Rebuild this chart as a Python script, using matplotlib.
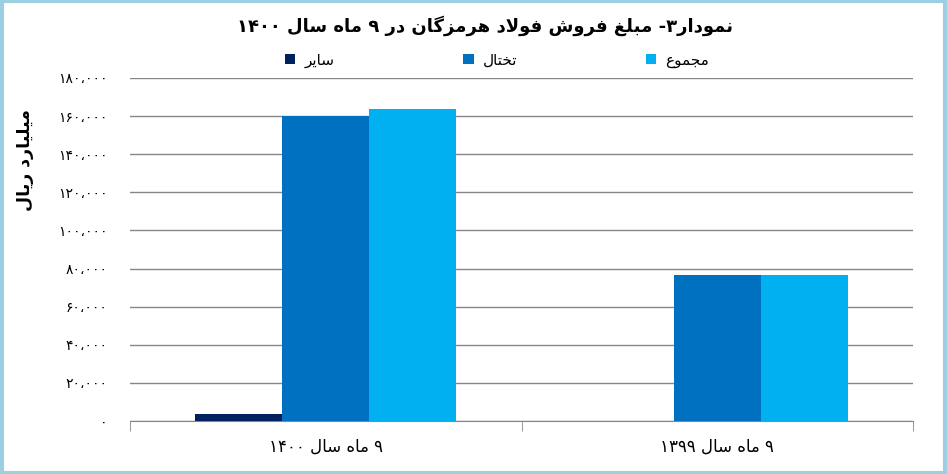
import re
import numpy as np
import matplotlib
matplotlib.use('Agg')
import matplotlib.pyplot as plt
from matplotlib.patches import Rectangle

# chart data
title = 'نمودار۳- مبلغ فروش فولاد هرمزگان در ۹ ماه سال ۱۴۰۰'
y_label = 'میلیارد ریال'
categories = ['۹ ماه سال ۱۴۰۰', '۹ ماه سال ۱۳۹۹']
series_names = ['سایر', 'تختال', 'مجموع']
sayer = [3800, 0]
takhtal = [159900, 76500]
majmoo = [163700, 76500]
colors = ['#002060', '#0070C0', '#00B0F0']

# arabic presentation forms: isolated, final, initial, medial
FORMS = {
    'ا': ('\uFE8D', '\uFE8E', None, None),
    'ب': ('\uFE8F', '\uFE90', '\uFE91', '\uFE92'),
    'ت': ('\uFE95', '\uFE96', '\uFE97', '\uFE98'),
    'ج': ('\uFE9D', '\uFE9E', '\uFE9F', '\uFEA0'),
    'خ': ('\uFEA5', '\uFEA6', '\uFEA7', '\uFEA8'),
    'د': ('\uFEA9', '\uFEAA', None, None),
    'ر': ('\uFEAD', '\uFEAE', None, None),
    'ز': ('\uFEAF', '\uFEB0', None, None),
    'س': ('\uFEB1', '\uFEB2', '\uFEB3', '\uFEB4'),
    'ش': ('\uFEB5', '\uFEB6', '\uFEB7', '\uFEB8'),
    'ع': ('\uFEC9', '\uFECA', '\uFECB', '\uFECC'),
    'غ': ('\uFECD', '\uFECE', '\uFECF', '\uFED0'),
    'ف': ('\uFED1', '\uFED2', '\uFED3', '\uFED4'),
    'ل': ('\uFEDD', '\uFEDE', '\uFEDF', '\uFEE0'),
    'م': ('\uFEE1', '\uFEE2', '\uFEE3', '\uFEE4'),
    'ن': ('\uFEE5', '\uFEE6', '\uFEE7', '\uFEE8'),
    'ه': ('\uFEE9', '\uFEEA', '\uFEEB', '\uFEEC'),
    'و': ('\uFEED', '\uFEEE', None, None),
    'ی': ('\uFBFC', '\uFBFD', '\uFBFE', '\uFBFF'),
    'گ': ('\uFB92', '\uFB93', '\uFB94', '\uFB95'),
}


def dual(c):
    return c in FORMS and FORMS[c][2] is not None


def fa(text):
    # shape letters, then put them in visual (left to right) order
    out = []
    n = len(text)
    i = 0
    while i < n:
        c = text[i]
        if c not in FORMS:
            out.append(c)
            i += 1
            continue
        link_prev = i > 0 and dual(text[i - 1])
        if c == 'ل' and i + 1 < n and text[i + 1] == 'ا':
            out.append('\uFEFC' if link_prev else '\uFEFB')
            i += 2
            continue
        link_next = dual(c) and i + 1 < n and text[i + 1] in FORMS
        iso, fin, ini, med = FORMS[c]
        if link_prev and link_next:
            out.append(med)
        elif link_prev:
            out.append(fin)
        elif link_next:
            out.append(ini)
        else:
            out.append(iso)
        i += 1
    tokens = re.findall(r'[۰-۹]+|.', ''.join(out))
    return ''.join(tokens[::-1])


def fa_num(v):
    s = f'{int(v):,}'
    return s.translate(str.maketrans('0123456789,', '۰۱۲۳۴۵۶۷۸۹،'))


fig = plt.figure(figsize=(9.47, 4.74), dpi=100)
ax = fig.add_axes([130 / 947, 1 - 421 / 474, 783 / 947, 343 / 474])

x = np.arange(len(categories))
w = 0.222
for k, (vals, name) in enumerate(zip([sayer, takhtal, majmoo], series_names)):
    ax.bar(x + (k - 1) * w, vals, w, color=colors[k], label=fa(name), zorder=3)

ax.set_xlim(-0.5, 1.5)
ax.set_ylim(0, 180000)
yt = np.arange(0, 180001, 20000)
ax.set_yticks(yt)
ax.set_yticklabels([fa_num(v) for v in yt], fontsize=10)
ax.tick_params(axis='y', length=0, pad=16)
ax.set_xticks(x)
ax.set_xticklabels([fa(c) for c in categories], fontsize=12)
ax.tick_params(axis='x', length=0, pad=12)
ax.set_xticks([-0.5, 0.5, 1.5], minor=True)
ax.tick_params(axis='x', which='minor', length=7, color='#868686')
ax.grid(axis='y', color='#868686', linewidth=1, zorder=0)
for s in ['left', 'top', 'right']:
    ax.spines[s].set_visible(False)
ax.spines['bottom'].set_color('#868686')

fig.text(485 / 947, 1 - 26 / 474, fa(title), ha='center', va='center',
         fontsize=13, fontweight='bold')
fig.text(25 / 947, 1 - 160 / 474, fa(y_label), rotation=90, ha='center',
         va='center', fontsize=12.5, fontweight='bold')
fig.legend(loc='center', bbox_to_anchor=(497 / 947, 1 - 60 / 474), ncol=3,
           frameon=False, fontsize=11, handlelength=0.7, handleheight=0.7,
           handletextpad=0.6, columnspacing=8.4)

fig.add_artist(Rectangle((0.002, 0.003), 0.996, 0.994, transform=fig.transFigure,
                         fill=False, edgecolor='#9CCFE2', linewidth=3))

fig.savefig('out.png', dpi=100)
